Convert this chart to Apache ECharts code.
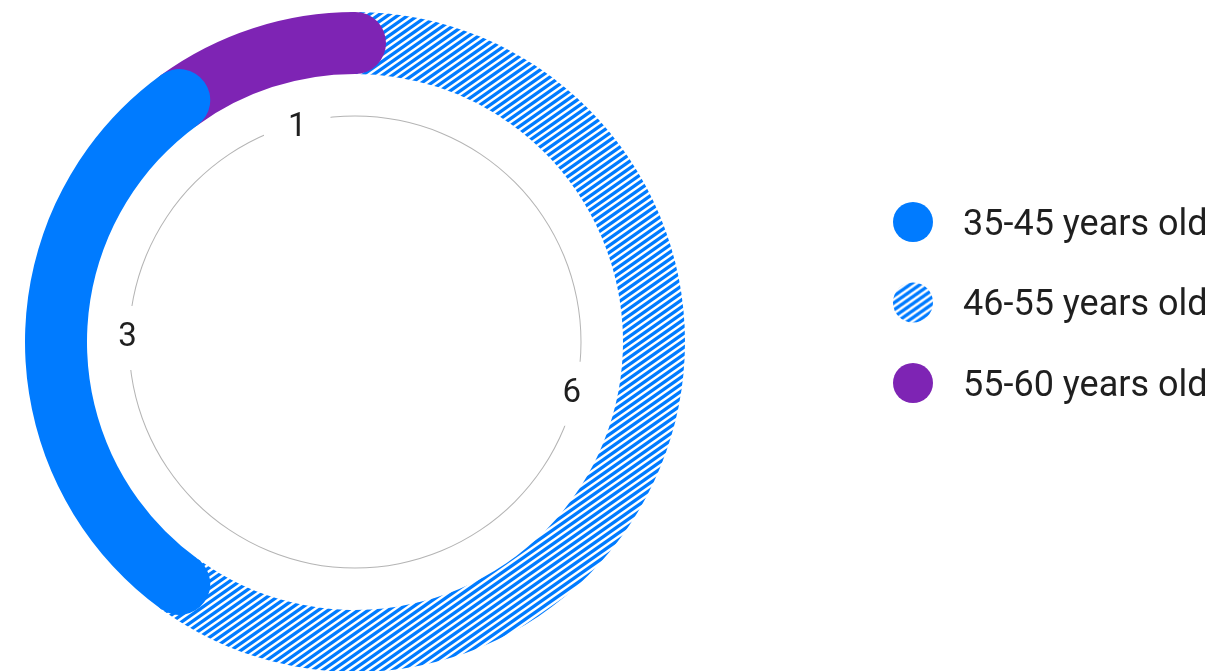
<!DOCTYPE html>
<html>
<head>
<meta charset="utf-8">
<script src="https://cdn.jsdelivr.net/npm/echarts@6/dist/echarts.min.js"></script>
<style>
html,body{margin:0;padding:0;background:#fff;}
#chart{width:1224px;height:671px;}
</style>
</head>
<body>
<div id="chart"></div>
<script>
// ---- data ----
const categories = ['35-45 years old', '46-55 years old', '55-60 years old'];
const values = [3, 6, 1];
// drawing order around the ring, clockwise from 12 o'clock
const ringOrder = [1, 0, 2];

// ---- styles ----
const BLUE = '#007BFF';
const PURPLE = '#7E24B4';
// small per-label nudges (px) so value labels sit where the reference puts them
const labelNudge = [[1.5, -4], [-1, -19], [13, 4]];
const zOrder = [4, 2, 3];

function makePattern() {
  const W = 10, H = 7;
  const c = document.createElement('canvas');
  c.width = W; c.height = H;
  const g = c.getContext('2d');
  g.fillStyle = '#fff';
  g.fillRect(0, 0, W, H);
  g.strokeStyle = BLUE;
  g.lineWidth = 3.3;
  // line family x/W + y/H = k, k = 0..2
  for (let k = 0; k <= 2; k++) {
    g.beginPath();
    g.moveTo((k + 1) * W, -H);
    g.lineTo((k - 2) * W, 2 * H);
    g.stroke();
  }
  return { image: c, repeat: 'repeat' };
}
const fills = [BLUE, makePattern(), PURPLE];

const chart = echarts.init(document.getElementById('chart'), null, { renderer: 'canvas' });

const barSeries = ringOrder.map(function (i) {
  return {
    type: 'bar',
    name: categories[i],
    coordinateSystem: 'polar',
    stack: 'ring',
    roundCap: true,
    barCategoryGap: '0%',
    data: [values[i]],
    itemStyle: { color: fills[i] },
    z: zOrder[i],
    silent: true
  };
});

const option = {
  animation: false,
  backgroundColor: '#fff',
  polar: { center: [355, 342], radius: [268, 330] },
  angleAxis: { type: 'value', min: 0, max: 10, startAngle: 90, clockwise: true, show: false },
  radiusAxis: { type: 'category', data: [''], show: false },
  legend: {
    orient: 'vertical',
    left: 893,
    top: 202,
    padding: 0,
    itemWidth: 40,
    itemHeight: 40,
    itemGap: 39,
    icon: 'circle',
    selectedMode: false,
    data: categories,
    formatter: '{t|{name}}',
    textStyle: {
      rich: {
        t: { fontFamily: 'Roboto', fontSize: 36, color: '#1f1f1f', padding: [7, 0, 0, 25] }
      }
    }
  },
  series: barSeries.concat([
    {
      type: 'pie',
      center: [355, 342],
      radius: [225.5, 226.5],
      silent: true,
      z: 0,
      label: { show: false },
      labelLine: { show: false },
      itemStyle: { color: '#b4b4b4' },
      data: [{ value: 1 }]
    },
    {
      type: 'pie',
      center: [355, 342],
      radius: [220, 232],
      startAngle: 90,
      clockwise: true,
      silent: true,
      z: 1,
      itemStyle: { color: 'rgba(0,0,0,0)' },
      labelLine: { show: false },
      label: {
        show: true,
        position: 'inside',
        formatter: '{c}',
        fontFamily: 'Roboto',
        fontSize: 33,
        color: '#1f1f1f',
        backgroundColor: '#fff',
        lineHeight: 28,
        padding: [18, 24]
      },
      data: ringOrder.map(function (i) {
        return { value: values[i], label: { offset: labelNudge[i] } };
      })
    }
  ])
};
chart.setOption(option);
</script>
</body>
</html>
